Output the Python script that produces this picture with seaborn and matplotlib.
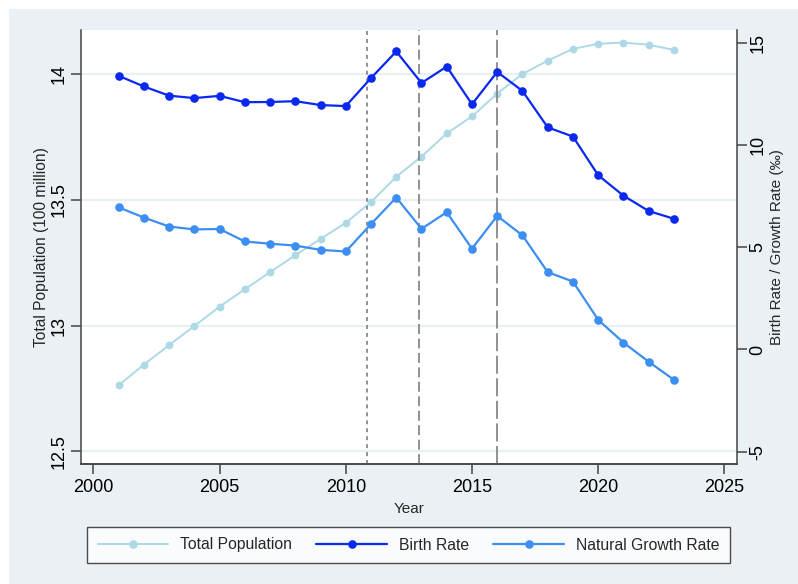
import numpy as np
import pandas as pd
import matplotlib
matplotlib.use("Agg")
import matplotlib.pyplot as plt
from matplotlib.patches import Rectangle
from matplotlib.lines import Line2D
import seaborn as sns

# China population statistics, 2001-2023
years = list(range(2001, 2024))
total_population = [12.7627, 12.8453, 12.9227, 12.9988, 13.0756, 13.1448, 13.2129,
                    13.2802, 13.3450, 13.4091, 13.4916, 13.5922, 13.6726, 13.7646,
                    13.8326, 13.9232, 14.0011, 14.0541, 14.1008, 14.1212, 14.1260,
                    14.1175, 14.0967]
birth_rate = [13.38, 12.86, 12.41, 12.29, 12.40, 12.09, 12.10, 12.14, 11.95, 11.90,
              13.27, 14.57, 13.03, 13.83, 11.99, 13.57, 12.64, 10.86, 10.41, 8.52,
              7.52, 6.77, 6.39]
natural_growth_rate = [6.95, 6.45, 6.01, 5.87, 5.89, 5.28, 5.17, 5.08, 4.87, 4.79,
                       6.13, 7.43, 5.90, 6.71, 4.93, 6.53, 5.58, 3.78, 3.32, 1.45,
                       0.34, -0.60, -1.48]
policy_marks = [2010.83, 2012.92, 2016.0]

df = pd.DataFrame({"Year": years, "Total Population": total_population,
                   "Birth Rate": birth_rate, "Natural Growth Rate": natural_growth_rate})

sns.set_theme(style="white")
plt.rcParams["font.family"] = ["Liberation Sans", "DejaVu Sans"]

BG = "#EAF0F3"
C_POP = "#ADD8E6"
C_BIRTH = "#0A28F0"
C_GROWTH = "#3D8EF2"
SPINE = "#444444"

fig = plt.figure(figsize=(7.98, 5.84), dpi=100)
fig.patch.set_facecolor("white")
fig.patches.append(Rectangle((9 / 798, 0), 1 - 9 / 798, 1 - 9 / 584,
                             transform=fig.transFigure, facecolor=BG,
                             edgecolor="none", zorder=-10))

ax = fig.add_axes([81 / 798, 1 - 464 / 584, (737 - 81) / 798, (464 - 30) / 584])
ax.set_facecolor("white")

# horizontal grid at the left-axis ticks
for v in [12.5, 13, 13.5, 14]:
    ax.axhline(v, color="#E8F0F1", lw=1.6, zorder=0)

sns.lineplot(data=df, x="Year", y="Total Population", ax=ax, color=C_POP,
             marker="o", markersize=5.6, markeredgewidth=0, lw=1.4, zorder=3,
             legend=False)
ax.set_xlim(1999.51, 2025.5)
ax.set_ylim(12.45, 14.176)
ax.set_yticks([12.5, 13, 13.5, 14])
ax.set_yticklabels(["12.5", "13", "13.5", "14"], rotation=90, va="center")
ax.set_xticks([2000, 2005, 2010, 2015, 2020, 2025])
ax.set_xlabel("Year", fontsize=11, labelpad=4)
ax.set_ylabel("Total Population (100 million)", fontsize=11.2, labelpad=1.5)

ax2 = ax.twinx()
for x, dash in zip(policy_marks, [(2.2, 2.2), (5.5, 2.5), (10, 2.5)]):
    ax2.axvline(x, color="#888888", lw=1.3, dashes=dash, zorder=1)
sns.lineplot(data=df, x="Year", y="Birth Rate", ax=ax2, color=C_BIRTH,
             marker="o", markersize=6.2, markeredgewidth=0, lw=1.6, zorder=3,
             legend=False)
sns.lineplot(data=df, x="Year", y="Natural Growth Rate", ax=ax2, color=C_GROWTH,
             marker="o", markersize=6.2, markeredgewidth=0, lw=1.6, zorder=3,
             legend=False)
ax2.set_ylim(-5.6, 15.62)
ax2.set_yticks([-5, 0, 5, 10, 15])
ax2.set_yticklabels(["-5", "0", "5", "10", "15"], rotation=90, va="center")
ax2.set_ylabel("Birth Rate / Growth Rate (‰)", fontsize=11, labelpad=2.5)
ax2.set_xlim(1999.51, 2025.5)

for a in (ax, ax2):
    a.spines["top"].set_visible(False)
    for side in ("left", "right", "bottom"):
        a.spines[side].set_color(SPINE)
        a.spines[side].set_linewidth(1.1)
    a.tick_params(axis="both", which="major", length=7, width=1.1, color=SPINE,
                  labelsize=13, labelcolor="black", direction="out")
ax.spines["right"].set_visible(False)
ax2.spines["left"].set_visible(False)
ax.tick_params(axis="y", pad=2.5)
ax.tick_params(axis="x", pad=4, bottom=True)
ax2.tick_params(axis="y", pad=2, right=True)

handles = [
    Line2D([], [], color=C_POP, marker="o", markersize=6.2, markeredgewidth=0, lw=1.4),
    Line2D([], [], color=C_BIRTH, marker="o", markersize=6.2, markeredgewidth=0, lw=1.6),
    Line2D([], [], color=C_GROWTH, marker="o", markersize=6.2, markeredgewidth=0, lw=1.6),
]
leg = fig.legend(handles, ["Total Population", "Birth Rate", "Natural Growth Rate"],
                 loc="center", bbox_to_anchor=(408.5 / 798, 1 - 545 / 584), ncol=3,
                 fontsize=11.3, frameon=True, fancybox=False, handlelength=4.5,
                 handletextpad=0.75, columnspacing=1.55, borderpad=0.7)
leg.get_frame().set_edgecolor("#222222")
leg.get_frame().set_linewidth(1.0)
leg.get_frame().set_facecolor("white")

fig.savefig("out.png", dpi=100, facecolor=fig.get_facecolor())
